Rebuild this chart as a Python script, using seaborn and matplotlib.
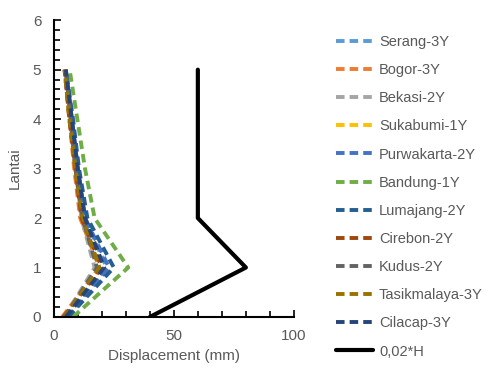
import pandas as pd
import matplotlib
matplotlib.use('Agg')
import matplotlib.pyplot as plt
import seaborn as sns
from matplotlib.ticker import MultipleLocator

# floors
lantai = [0, 1, 2, 3, 4, 5]

# displacement per city (mm)
serang = [5, 22, 13, 10, 7.5, 5]
bogor = [3.5, 19, 11, 8.5, 6.5, 4.5]
bekasi = [4.5, 17, 11.5, 9, 7, 5]
sukabumi = [5, 21, 12.5, 9.5, 7, 5]
purwakarta = [5.5, 23, 13, 10, 7.5, 5]
bandung = [8, 31, 17, 13, 9.8, 6.6]
lumajang = [6, 25, 14, 10.5, 8, 5]
cirebon = [4, 20, 11.5, 9, 6.5, 4.5]
kudus = [4.5, 18, 12, 9, 7, 5]
tasikmalaya = [4.5, 19, 12, 9, 6.5, 4.5]
cilacap = [5, 21, 13, 10, 7.5, 5]
batas = [40, 80, 60, 60, 60, 60]

names = ['Serang-3Y', 'Bogor-3Y', 'Bekasi-2Y', 'Sukabumi-1Y', 'Purwakarta-2Y', 'Bandung-1Y',
         'Lumajang-2Y', 'Cirebon-2Y', 'Kudus-2Y', 'Tasikmalaya-3Y', 'Cilacap-3Y', '0,02*H']
values = [serang, bogor, bekasi, sukabumi, purwakarta, bandung,
          lumajang, cirebon, kudus, tasikmalaya, cilacap, batas]
colors = ['#5B9BD5', '#ED7D31', '#A5A5A5', '#FFC000', '#4472C4', '#70AD47',
          '#255E91', '#9E480E', '#636363', '#997300', '#264478', '#000000']

rows = []
for n, v in zip(names, values):
    for f, d in zip(lantai, v):
        rows.append({'lokasi': n, 'lantai': f, 'disp': d})
df = pd.DataFrame(rows)

sns.set_style('white')
plt.rcParams['font.family'] = ['Liberation Sans', 'DejaVu Sans']

fig = plt.figure(figsize=(4.89, 3.88), dpi=100)
ax = fig.add_axes([0.110, 0.183, 0.491, 0.765])

palette = dict(zip(names, colors))
dashes = {n: (2.2, 1.3) for n in names}
dashes['0,02*H'] = ''
sizes = {n: 2.8 for n in names}
sizes['0,02*H'] = 3.0

sns.lineplot(data=df, x='disp', y='lantai', hue='lokasi', style='lokasi', size='lokasi',
             palette=palette, dashes=dashes, sizes=sizes, hue_order=names,
             style_order=names, size_order=names, estimator=None, sort=False,
             orient='y', ax=ax)

ax.set_xlim(0, 100)
ax.set_ylim(0, 6)
ax.xaxis.set_major_locator(MultipleLocator(50))
ax.xaxis.set_minor_locator(MultipleLocator(10))
ax.yaxis.set_major_locator(MultipleLocator(1))
ax.yaxis.set_minor_locator(MultipleLocator(0.2))
ax.tick_params(which='both', direction='in', color='black', width=1.2)
ax.tick_params(which='major', length=5, labelsize=11, labelcolor='#595959', pad=9)
ax.tick_params(which='minor', length=4)
ax.tick_params(axis='both', which='both', bottom=True, left=True)
for s in ['top', 'right']:
    ax.spines[s].set_visible(False)
for s in ['left', 'bottom']:
    ax.spines[s].set_color('black')
    ax.spines[s].set_linewidth(1.5)

ax.set_xlabel('Displacement (mm)', fontsize=11, color='#595959', labelpad=4)
ax.set_ylabel('Lantai', fontsize=11, color='#595959', labelpad=8)

handles, labels = ax.get_legend_handles_labels()
ax.get_legend().remove()
fig.legend(handles, labels, loc='upper left', bbox_to_anchor=(0.675, 0.925),
           bbox_transform=fig.transFigure, frameon=False, fontsize=10.5,
           labelcolor='#595959', labelspacing=0.97, handlelength=2.55,
           handletextpad=0.4, borderaxespad=0)

plt.savefig('out.png', dpi=100)
